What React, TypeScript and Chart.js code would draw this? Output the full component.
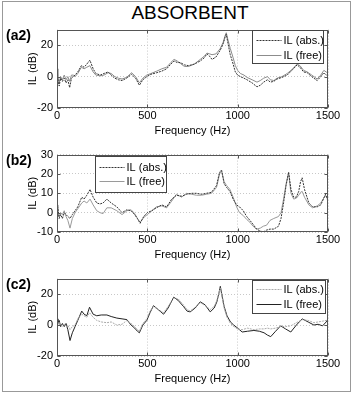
import React, { useEffect, useRef } from 'react';
import { Chart, registerables } from 'chart.js';
Chart.register(...registerables);

const FONT = '"Liberation Sans", Arial, Helvetica, sans-serif';

// ---- axes ----
const xTicks = [0, 500, 1000, 1500];
const yTicksAC = [-20, 0, 20];
const yTicksB = [-10, 0, 10, 20, 30];

// ---- panel (a2) ----
const freqA = [0, 5, 12, 20, 30, 40, 50, 60, 70, 80, 90, 100, 115, 135, 150, 165, 182, 200, 215, 240, 260, 283, 300, 320, 340, 360, 385, 413, 435, 456, 475, 497, 520, 552, 580, 607, 630, 648, 665, 682, 705, 728, 760, 793, 815, 830, 845, 858, 880, 904, 920, 930, 937, 945, 959, 975, 987, 1000, 1015, 1035, 1052, 1080, 1107, 1125, 1144, 1165, 1181, 1200, 1218, 1245, 1274, 1300, 1329, 1345, 1365, 1385, 1410, 1440, 1460, 1477, 1490, 1500];
const absA = [4, -2, -6, -1, -3, -1, -4, -2, -7, -1, 0, 1, 3, 7, 6, 8, 10.5, 5, 2, 1, 2, 3, 1, -1, -2, -2.5, -1, 1.5, -1, -5.5, -2, 0, 1.5, 2.5, 3.5, 5, 8, 10, 9, 9, 7.5, 7, 8, 10, 12, 14.5, 13, 11, 12.5, 17, 21, 25, 27, 22, 14, 8, 3, 1, 0, -1, -2, -4, -6.5, -5.5, -3.5, -2, -3.5, -3, -1.5, -0.5, 1, 4, 7.5, 6, 3, 2.5, 0, -2.5, 0, 2.5, 1, 1];
const freeA = [5, 0, -4, 0, -2, 1, -2, 0, -3, 1, 1, 0, 2, 6, 5, 6, 7, 3, 1, 0.5, 1, 2.5, 2, 0, -1, -1.5, -0.5, 2.5, 0, -4, -1, 1, 2, 3.5, 5, 6, 9, 11, 10, 8.5, 6.5, 6.5, 8, 11, 13, 15, 14.5, 14, 14.5, 18, 22, 26, 28, 24, 18, 12, 7, 4, 2, 1, -0.5, -2, -3.5, -2.5, -1, 0, -2, -2.5, -1, 0, 2, 4.5, 8, 7, 4, 3, 1, -1.5, 1, 4, 3, 2];

// ---- panel (b2) ----
const freqB = [0, 5, 12, 20, 30, 40, 50, 60, 72, 85, 100, 115, 137, 150, 165, 183, 200, 220, 238, 255, 276, 300, 331, 360, 387, 410, 430, 445, 460, 480, 500, 525, 550, 580, 607, 635, 661, 690, 717, 745, 772, 800, 827, 855, 883, 900, 911, 925, 939, 957, 975, 994, 1010, 1031, 1050, 1068, 1085, 1105, 1125, 1142, 1160, 1179, 1200, 1226, 1240, 1254, 1268, 1282, 1295, 1310, 1325, 1338, 1348, 1357, 1370, 1394, 1415, 1440, 1460, 1486, 1500];
const absB = [5, 2, -3, -1, -3, 0, -1, -2, -3, -1, 1, 3, 8, 7, 9, 12, 8, 5, 4.5, 5, 7, 5, 3, 0, 1.5, 1, -1, -3, -5.5, -2, 0, 1, 2.5, 4, 3, 7, 9, 8.5, 9.5, 10, 10, 9.5, 10, 10.5, 14, 21, 22, 15, 13, 11, 7, 4, 3, 1, -2, -4, -6, -8.5, -9.5, -10, -9, -8.5, -8.5, -7, -3, 5, 14, 21, 12, 8, 8, 11, 16, 18, 12, 5, 3, 3, 4, 9.5, 6];
const freeB = [4, 0, -2, 0, -1, 1, -2, -4, -8, -3, 0, 2, 5, 6, 5, 7, 4, 1, 0, -0.5, 2.5, 2.5, 1, -1, 1, 1.5, -0.5, -3, -5, -2.5, -1, 1, 3, 3.5, 2.5, 6, 9.5, 8, 10, 9.5, 9, 9, 9.5, 10, 13, 20, 21.5, 16, 14, 12, 8, 3, 0, -1.5, -3.5, -5, -7, -8.5, -8, -7, -6.5, -4, -3, -2, 0, 7, 15, 20.5, 10, 7, 7.5, 9, 10.5, 11, 8, 4, 2.5, 3.5, 5, 9, 7];

// ---- panel (c2) ----
const freqC = [0, 5, 12, 20, 30, 40, 50, 60, 72, 85, 100, 115, 137, 150, 165, 180, 200, 220, 245, 276, 300, 331, 360, 387, 410, 430, 445, 456, 475, 497, 515, 534, 560, 590, 615, 646, 670, 700, 720, 737, 765, 793, 820, 848, 870, 885, 897, 904, 912, 925, 941, 960, 978, 1000, 1025, 1055, 1090, 1120, 1146, 1165, 1183, 1210, 1238, 1265, 1294, 1325, 1357, 1390, 1422, 1445, 1470, 1490, 1500];
const absC = [3, 0, 2, 0, -1, 1, -1, 0, -3, -1, 0, 4, 7, 6, 5, 8, 5, 3, 2, 1.5, 2, 0, 0.5, 3, 1, -1, -3, -4, 1, 4, 9, 12, 10, 8, 12, 17.5, 17, 13, 10, 9, 11.5, 14.5, 12.5, 10, 12, 16, 21, 24, 19, 11, 5, 1, -1, -2.5, -3, -2, -3, -2.5, -2.5, -2, -2.5, -2, -1, -1, -0.5, 1.5, 3.5, 3, 1.5, 2, 2.5, 3, 3];
const freeC = [4, 1, 3, -1, 1, -1, 1, -3, -10, -5, -1, 3, 9, 7, 6, 11.5, 7, 6, 6.5, 6.5, 5.5, 4.5, 4, 3.5, 0, -2, -4, -5, 0, 3, 8, 12.5, 10, 7, 11, 18, 16, 12, 9, 8.5, 11, 15, 13, 8.5, 11, 15, 21, 25, 20, 12, 6, 2, 0, -2, -4.5, -4, -3.5, -4, -5, -6.5, -7.5, -4, -0.5, -2.5, -4.5, 0, 4, 2, 0, 0.5, -0.5, 2, 4];

const framePlugin = {
  id: 'frameBox',
  afterDatasetsDraw(chart: any) {
    const { ctx, chartArea } = chart;
    const l = Math.round(chartArea.left) + 0.5;
    const t = Math.round(chartArea.top) + 0.5;
    const r = Math.round(chartArea.right) - 0.5;
    const b = Math.round(chartArea.bottom) - 0.5;
    ctx.save();
    ctx.strokeStyle = '#555';
    ctx.lineWidth = 1;
    ctx.setLineDash([]);
    ctx.strokeRect(l, t, r - l, b - t);
    const xs = chart.scales.x;
    const ys = chart.scales.y;
    ctx.beginPath();
    xs.ticks.forEach((tk: any) => {
      const px = Math.round(xs.getPixelForValue(tk.value)) + 0.5;
      ctx.moveTo(px, b); ctx.lineTo(px, b - 3);
      ctx.moveTo(px, t); ctx.lineTo(px, t + 3);
    });
    ys.ticks.forEach((tk: any) => {
      const py = Math.round(ys.getPixelForValue(tk.value)) + 0.5;
      ctx.moveTo(l, py); ctx.lineTo(l + 3, py);
      ctx.moveTo(r, py); ctx.lineTo(r - 3, py);
    });
    ctx.stroke();
    ctx.restore();
  },
};

const legendPlugin = {
  id: 'legendBox',
  afterDraw(chart: any, _args: any, opts: any) {
    const { ctx, chartArea } = chart;
    const x = Math.round(chartArea.left + opts.dx) + 0.5;
    const y = Math.round(chartArea.top + opts.dy) + 0.5;
    ctx.save();
    ctx.fillStyle = '#fff';
    ctx.fillRect(x, y, opts.w, opts.h);
    ctx.strokeStyle = '#444';
    ctx.lineWidth = 1;
    ctx.setLineDash([]);
    ctx.strokeRect(x, y, opts.w, opts.h);
    chart.data.datasets.forEach((ds: any, i: number) => {
      const ry = Math.round(y + opts.rows[i]) + 0.5;
      ctx.setLineDash(ds.borderDash || []);
      ctx.strokeStyle = ds.borderColor;
      ctx.lineWidth = ds.borderWidth;
      ctx.beginPath();
      ctx.moveTo(x + 4, ry);
      ctx.lineTo(x + 29, ry);
      ctx.stroke();
      ctx.setLineDash([]);
      ctx.fillStyle = '#000';
      ctx.font = `11px ${FONT}`;
      ctx.textBaseline = 'middle';
      ctx.textAlign = 'left';
      ctx.fillText(ds.label, x + 31, ry);
    });
    ctx.restore();
  },
};

type SeriesDef = { label: string; values: number[]; color: string; dash: number[]; width: number };

function Panel(props: {
  top: number; height: number; freq: number[]; series: SeriesDef[];
  yMin: number; yMax: number; yTicks: number[]; legend: any;
}) {
  const ref = useRef<HTMLCanvasElement>(null);
  useEffect(() => {
    const { freq, series, yMin, yMax, yTicks, legend } = props;
    const tickFont = { size: 11, family: FONT };
    const chart = new Chart(ref.current as HTMLCanvasElement, {
      type: 'line',
      data: {
        datasets: series.map((s) => ({
          label: s.label,
          data: freq.map((f, i) => ({ x: f, y: s.values[i] })),
          borderColor: s.color,
          borderDash: s.dash,
          borderWidth: s.width,
          pointRadius: 0,
          tension: 0,
          fill: false,
        })),
      },
      options: {
        animation: false,
        responsive: false,
        events: [],
        layout: { padding: { top: 10, right: 26, left: 0, bottom: 0 } },
        plugins: {
          legend: { display: false },
          tooltip: { enabled: false },
          legendBox: legend,
        } as any,
        scales: {
          x: {
            type: 'linear',
            min: 0,
            max: 1500,
            afterBuildTicks: (s: any) => { s.ticks = xTicks.map((v) => ({ value: v })); },
            afterFit: (s: any) => { s.height = 32; },
            ticks: { padding: 1, maxRotation: 0, autoSkip: false, color: '#000', font: tickFont, callback: (v: any) => String(v) },
            grid: { color: '#c8c8c8', drawTicks: false, lineWidth: 1 },
            border: { display: false, dash: [1, 2] },
            title: { display: true, text: 'Frequency (Hz)', color: '#000', font: tickFont, padding: { top: 0, bottom: 2 } },
          },
          y: {
            type: 'linear',
            min: yMin,
            max: yMax,
            afterBuildTicks: (s: any) => { s.ticks = yTicks.map((v) => ({ value: v })); },
            afterFit: (s: any) => { s.width = 57; },
            ticks: { padding: 4, autoSkip: false, color: '#000', font: tickFont, callback: (v: any) => String(v) },
            grid: { color: '#c8c8c8', drawTicks: false, lineWidth: 1 },
            border: { display: false, dash: [1, 2] },
            title: { display: true, text: 'IL (dB)', color: '#000', font: tickFont, padding: { top: 26, bottom: 0 } },
          },
        },
      } as any,
      plugins: [framePlugin, legendPlugin],
    });
    return () => chart.destroy();
  }, []);
  return (
    <canvas
      ref={ref}
      width={354}
      height={props.height}
      style={{ position: 'absolute', left: 0, top: props.top, width: 354, height: props.height }}
    />
  );
}

const labelStyle = (top: number): React.CSSProperties => ({
  position: 'absolute', left: 6, top, font: `bold 14px ${FONT}`, lineHeight: '16px', color: '#000',
});

export default function App() {
  return (
    <div style={{ position: 'absolute', left: 0, top: 0, width: 354, height: 395, background: '#fff', overflow: 'hidden' }}>
      <div style={{ position: 'absolute', left: 2, top: 1, width: 349, height: 391, border: '1px solid #999', boxSizing: 'border-box' }} />
      <div style={{ position: 'absolute', left: 90, top: 3, width: 200, textAlign: 'center', font: `19px ${FONT}`, lineHeight: '20px', color: '#000' }}>ABSORBENT</div>
      <Panel
        top={19} height={121} freq={freqA} yMin={-20} yMax={30} yTicks={yTicksAC}
        series={[
          { label: 'IL (abs.)', values: absA, color: '#333', dash: [2, 1], width: 1 },
          { label: 'IL (free)', values: freeA, color: '#8c8c8c', dash: [], width: 1 },
        ]}
        legend={{ dx: 195, dy: 0, w: 71, h: 33, rows: [9, 24] }}
      />
      <Panel
        top={144} height={120} freq={freqB} yMin={-10} yMax={30} yTicks={yTicksB}
        series={[
          { label: 'IL (abs.)', values: absB, color: '#333', dash: [2, 1], width: 1 },
          { label: 'IL (free)', values: freeB, color: '#9a9a9a', dash: [], width: 1 },
        ]}
        legend={{ dx: 38, dy: 1, w: 71, h: 36, rows: [10, 24] }}
      />
      <Panel
        top={268} height={120} freq={freqC} yMin={-20} yMax={30} yTicks={yTicksAC}
        series={[
          { label: 'IL (abs.)', values: absC, color: '#aaa', dash: [2, 1], width: 1 },
          { label: 'IL (free)', values: freeC, color: '#222', dash: [], width: 1 },
        ]}
        legend={{ dx: 195, dy: 1, w: 73, h: 33, rows: [8, 23] }}
      />
      <div style={labelStyle(27)}>(a2)</div>
      <div style={labelStyle(152)}>(b2)</div>
      <div style={labelStyle(276)}>(c2)</div>
    </div>
  );
}
